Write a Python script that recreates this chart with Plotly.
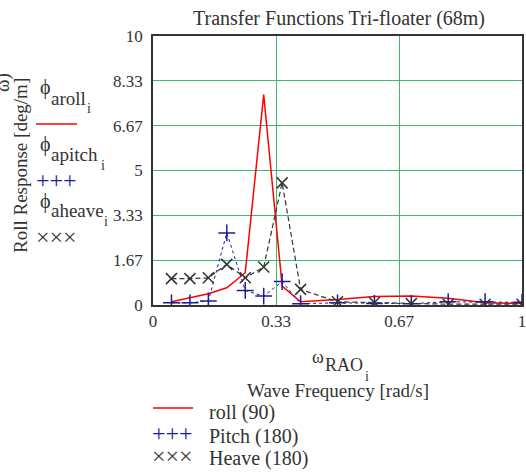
import plotly.graph_objects as go

freq = [0.05, 0.1, 0.15, 0.2, 0.25, 0.3, 0.35, 0.4, 0.5, 0.6, 0.7, 0.8, 0.9, 1.0]
roll = [0.12, 0.27, 0.42, 0.64, 1.2, 7.82, 0.70, 0.12, 0.20, 0.32, 0.33, 0.25, 0.08, 0.06]
pitch = [0.08, 0.08, 0.15, 2.68, 0.54, 0.33, 0.87, 0.05, 0.08, 0.06, 0.05, 0.12, 0.12, 0.1]
heave = [0.98, 0.98, 1.01, 1.51, 1.01, 1.41, 4.54, 0.58, 0.12, 0.09, 0.05, 0.03, 0.03, 0.03]

xticks = [0, 1/3, 2/3, 1]
xticklabels = ["0", "0.33", "0.67", "1"]
yticks = [0, 10/6, 20/6, 5, 40/6, 50/6, 10]
yticklabels = ["0", "1.67", "3.33", "5", "6.67", "8.33", "10"]

W, H = 526, 475
L, R, T, B = 153, 4, 36, 170
PW, PH = W - L - R, H - T - B
FONT = "Liberation Serif"
TXT = "#333333"
GRID = "rgb(60,185,110)"
BLUE = "#1c1c9a"
DARK = "#333333"


def px(x):
    return (x - L) / PW


def py(y):
    return (H - B - y) / PH


fig = go.Figure()
fig.add_trace(go.Scatter(x=freq, y=roll, mode="lines", line=dict(color="red", width=1.5)))
fig.add_trace(go.Scatter(x=freq, y=pitch, mode="lines+markers",
                         line=dict(color=BLUE, width=1, dash="dot"),
                         marker=dict(symbol="cross-thin", size=12, line=dict(color=BLUE, width=1.5))))
fig.add_trace(go.Scatter(x=freq, y=heave, mode="lines+markers",
                         line=dict(color=DARK, width=1.2, dash="5px,3px"),
                         marker=dict(symbol="x-thin", size=11, line=dict(color=DARK, width=1.5))))

ann = []


def add_text(x, y, text, size=16, color=TXT, xanchor="left", angle=0):
    ann.append(dict(x=px(x), y=py(y), xref="paper", yref="paper", text=text, showarrow=False,
                    xanchor=xanchor, yanchor="middle", textangle=angle, borderpad=0,
                    font=dict(family=FONT, size=size, color=color)))


# left legend (symbol, subscript, sub-subscript)
for yphi, ysub, yi, sub, xi in [(88, 98, 108, "aroll", 86), (144, 154, 165, "apitch", 100),
                                 (201, 210, 221, "aheave", 103)]:
    add_text(39, yphi, "ϕ", size=20)
    add_text(50, ysub, sub, size=19)
    add_text(xi, yi, "i", size=14)
add_text(35, 180, "+++", size=24, color=BLUE)
add_text(35, 237, "×××", size=24, color=DARK)

# axis label texts
add_text(20, 166, "Roll Response [deg/m]", size=19, xanchor="center", angle=-90)
add_text(3, 83, "ω)", size=19, xanchor="center", angle=-90)
add_text(311, 357, "ω", size=18)
add_text(324, 365, "RAO", size=18)
add_text(364, 376, "i", size=14)
add_text(338, 390, "Wave Frequency [rad/s]", size=19, xanchor="center")

# bottom legend
add_text(208, 412, "roll (90)", size=20)
add_text(208, 436, "Pitch (180)", size=20)
add_text(208, 459, "Heave (180)", size=20)
add_text(151, 433, "+++", size=24, color=BLUE)
add_text(151, 456, "×××", size=24, color=DARK)

shapes = [
    dict(type="line", xref="paper", yref="paper", x0=px(36), x1=px(77), y0=py(124), y1=py(124),
         line=dict(color="red", width=1.5)),
    dict(type="line", xref="paper", yref="paper", x0=px(153), x1=px(193), y0=py(408), y1=py(408),
         line=dict(color="red", width=1.5)),
]

fig.update_layout(
    width=W, height=H,
    margin=dict(l=L, r=R, t=T, b=B, autoexpand=False),
    paper_bgcolor="white", plot_bgcolor="white",
    showlegend=False,
    title=dict(text="Transfer Functions Tri-floater (68m)", x=px(339), xref="paper", xanchor="center",
               y=1 - 18 / H, yanchor="middle", font=dict(family=FONT, size=20, color=TXT)),
    annotations=ann, shapes=shapes,
    font=dict(family=FONT, size=17, color=TXT),
)
fig.update_xaxes(range=[0, 1], tickvals=xticks, ticktext=xticklabels, showgrid=True, gridcolor=GRID,
                 gridwidth=1.2, showline=True, linecolor="#333333", linewidth=1.5, mirror=True,
                 zeroline=False, ticks="", automargin=False, ticklabeloverflow="allow",
                 tickfont=dict(family=FONT, size=17, color=TXT))
fig.update_yaxes(range=[0, 10], tickvals=yticks, ticktext=yticklabels, showgrid=True, gridcolor=GRID,
                 gridwidth=1.2, showline=True, linecolor="#333333", linewidth=1.5, mirror=True,
                 zeroline=False, ticks="", automargin=False, ticklabelstandoff=5,
                 ticklabeloverflow="allow",
                 tickfont=dict(family=FONT, size=17, color=TXT))

fig.write_html("out.html", config={"displayModeBar": False},
               post_script="document.body.style.margin='0';document.body.style.overflow='hidden';")
